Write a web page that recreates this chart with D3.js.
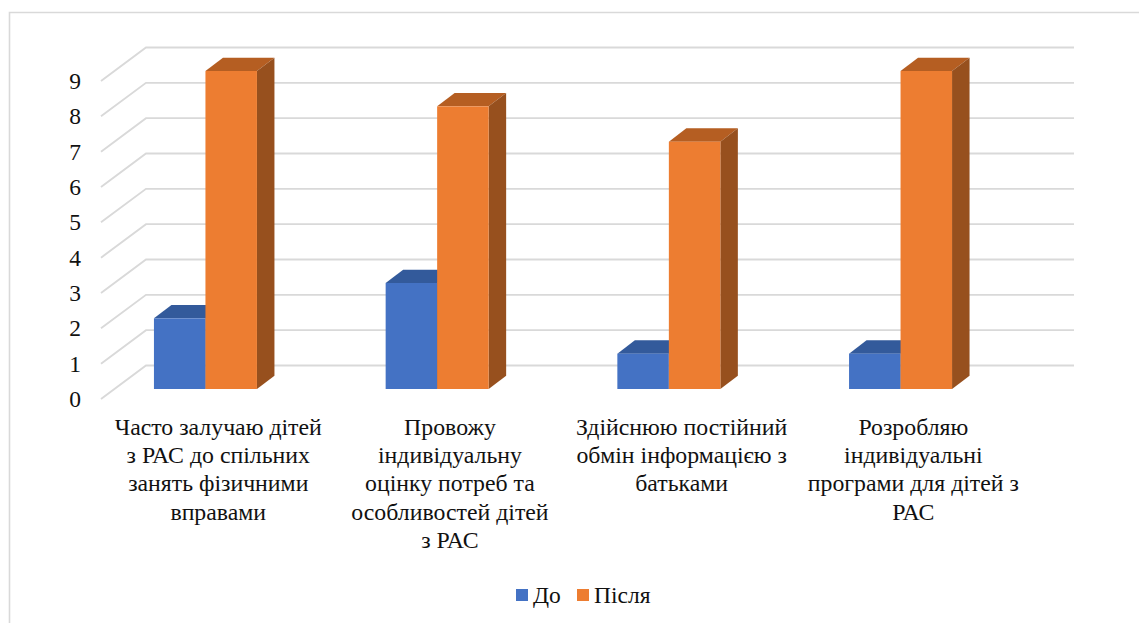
<!DOCTYPE html>
<html><head><meta charset="utf-8">
<script src="https://cdn.jsdelivr.net/npm/d3@7"></script>
<style>html,body{margin:0;padding:0;background:#fff}svg{display:block}text{font-family:"Liberation Serif",serif;fill:#111}</style>
</head><body><svg id="c" width="1139" height="623"></svg>
<script>
const categories=[
 ["Часто залучаю дітей","з РАС до спільних","занять фізичними","вправами"],
 ["Провожу","індивідуальну","оцінку потреб та","особливостей дітей","з РАС"],
 ["Здійснюю постійний","обмін інформацією з","батьками"],
 ["Розробляю","індивідуальні","програми для дітей з","РАС"]];
const seriesNames=["До","Після"];
const before=[2,3,1,1];
const after=[9,8,7,9];
const ticks=[0,1,2,3,4,5,6,7,8,9];
const colors=[{front:"#4472C4",top:"#335A9B",side:"#2C4F8A"},{front:"#ED7D31",top:"#B55E22",side:"#97501E"}];
const svg=d3.select("#c");
// frame
svg.append("path").attr("d","M1139,12.5H9.5V623").attr("fill","none").attr("stroke","#d9d9d9").attr("stroke-width",1.6);
const W={x0:101,x1:146,x2:1074,dy:33.5};
const yBack=d3.scaleLinear().domain([0,9]).range([365.5,47.5]);
const yBar=d3.scaleLinear().domain([0,9]).range([389,71]);
const x0=d3.scaleBand().domain(d3.range(4)).range([89.6,1016.4]);
const bw=51.5, dx=17.5, dy=13.3;
const grid=svg.append("g").attr("fill","none").attr("stroke","#d9d9d9").attr("stroke-width",1.9);
grid.selectAll("path").data(ticks).join("path")
 .attr("d",t=>`M${W.x0},${yBack(t)+W.dy}L${W.x1},${yBack(t)}H${W.x2}`);
svg.append("g").selectAll("text").data(ticks).join("text")
 .attr("x",81).attr("y",t=>yBack(t)+W.dy+8).attr("text-anchor","end").attr("font-size",23.5).text(d=>d);
const bars=[];
categories.forEach((c,i)=>{[before[i],after[i]].forEach((v,s)=>bars.push({i,s,v}));});
const g=svg.append("g");
bars.forEach(b=>{
 const cx=x0(b.i)+x0.bandwidth()/2;
 const l=cx+(b.s-1)*bw,r=l+bw,t=yBar(b.v),bt=yBar(0),c=colors[b.s];
 g.append("path").attr("d",`M${l},${t}L${l+dx},${t-dy}H${r+dx}L${r},${t}Z`).attr("fill",c.top);
 g.append("path").attr("d",`M${r},${t}L${r+dx},${t-dy}V${bt-dy}L${r},${bt}Z`).attr("fill",c.side);
 g.append("rect").attr("x",l).attr("y",t).attr("width",bw).attr("height",bt-t).attr("fill",c.front);
});
const lab=svg.append("g").attr("text-anchor","middle");
categories.forEach((lines,i)=>{
 const cx=x0(i)+x0.bandwidth()/2+12.8;
 lines.forEach((ln,k)=>lab.append("text").attr("x",cx).attr("y",435+k*28.2).attr("font-size",23.8).text(ln));
});
const leg=svg.append("g");
[[516,533,seriesNames[0]],[577,594,seriesNames[1]]].forEach((d,i)=>{
 leg.append("rect").attr("x",d[0]).attr("y",589).attr("width",12).attr("height",12).attr("fill",colors[i].front);
 leg.append("text").attr("x",d[1]).attr("y",603).attr("font-size",23.5).text(d[2]);
});
</script></body></html>
